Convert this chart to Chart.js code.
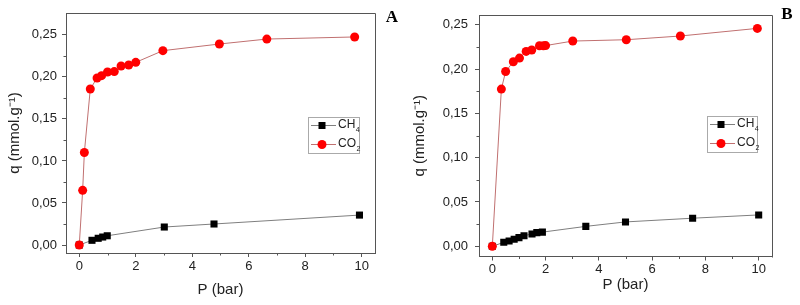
<!DOCTYPE html>
<html>
<head>
<meta charset="utf-8">
<script src="https://cdn.jsdelivr.net/npm/chart.js@4.4.1/dist/chart.umd.min.js"></script>
<style>
  body { margin: 0; background: #fff; }
  canvas { position: absolute; top: 0; }
  #chartA { left: 0; }
  #chartB { left: 400px; }
</style>
</head>
<body>
<canvas id="chartA" width="400" height="305"></canvas>
<canvas id="chartB" width="400" height="305"></canvas>
<script>
// Panel A data (P in bar, q in mmol/g)
const pressureCO2A = [0, 0.12, 0.18, 0.39, 0.63, 0.79, 1.0, 1.24, 1.48, 1.75, 2.0, 2.96, 4.96, 6.64, 9.75];
const uptakeCO2A   = [0, 0.065, 0.110, 0.1856, 0.1987, 0.2015, 0.2058, 0.2063, 0.213, 0.2141, 0.2173, 0.2312, 0.2391, 0.245, 0.2475];
const pressureCH4A = [0, 0.45, 0.67, 0.83, 0.99, 3.01, 4.77, 9.92];
const uptakeCH4A   = [0, 0.0056, 0.008, 0.0095, 0.011, 0.0214, 0.025, 0.0356];

// Panel B data
const pressureCO2B = [0, 0.34, 0.50, 0.79, 1.02, 1.27, 1.48, 1.77, 1.92, 2.0, 3.02, 5.03, 7.06, 9.95];
const uptakeCO2B   = [0, 0.1774, 0.1973, 0.2082, 0.2124, 0.2199, 0.2215, 0.2263, 0.2263, 0.2265, 0.2316, 0.2331, 0.2373, 0.2459];
const pressureCH4B = [0, 0.43, 0.63, 0.82, 1.0, 1.19, 1.49, 1.67, 1.88, 3.51, 5.0, 7.52, 10.0];
const uptakeCH4B   = [0, 0.0045, 0.006, 0.0079, 0.0098, 0.012, 0.0139, 0.0154, 0.016, 0.0225, 0.0275, 0.0317, 0.0354];

// Axis ticks
const xTicks = [0, 2, 4, 6, 8, 10];
const xMinorTicks = [1, 3, 5, 7, 9];
const yTicks = [0, 0.05, 0.10, 0.15, 0.20, 0.25];
const yMinorTicks = [0.025, 0.075, 0.125, 0.175, 0.225];

const seriesNames = ['CH4', 'CO2'];

const FONT = "'Liberation Sans', Arial, sans-serif";
const AXIS_COLOR = '#555';
const TEXT_COLOR = '#222';

function toPoints(xs, ys) {
    return xs.map((x, i) => ({ x: x, y: ys[i] }));
}

// Frame, minor ticks, inset legend and panel letter
const panelExtras = {
    id: 'panelExtras',
    afterDraw(chart, args, opts) {
        const ctx = chart.ctx;
        const area = chart.chartArea;
        const xs = chart.scales.x;
        const ys = chart.scales.y;
        ctx.save();

        // top and right frame lines
        ctx.strokeStyle = AXIS_COLOR;
        ctx.lineWidth = 1;
        ctx.beginPath();
        ctx.moveTo(Math.round(area.left) + 0.5, Math.round(area.top) + 0.5);
        ctx.lineTo(Math.round(area.right) + 0.5, Math.round(area.top) + 0.5);
        ctx.lineTo(Math.round(area.right) + 0.5, Math.round(area.bottom) + 0.5);
        ctx.stroke();

        // minor ticks
        ctx.beginPath();
        xMinorTicks.forEach(v => {
            const px = Math.round(xs.getPixelForValue(v)) + 0.5;
            ctx.moveTo(px, area.bottom);
            ctx.lineTo(px, area.bottom + 2.5);
        });
        yMinorTicks.forEach(v => {
            const py = Math.round(ys.getPixelForValue(v)) + 0.5;
            ctx.moveTo(area.left, py);
            ctx.lineTo(area.left - 2.5, py);
        });
        ctx.stroke();

        // legend box
        const lg = opts.legend;
        ctx.strokeStyle = '#aaa';
        ctx.strokeRect(lg.x + 0.5, lg.y + 0.5, lg.w, lg.h);
        const rows = [
            { name: seriesNames[0], line: '#7f7f7f', fill: '#000', shape: 'rect' },
            { name: seriesNames[1], line: '#c07070', fill: '#f00', shape: 'circle' }
        ];
        rows.forEach((r, i) => {
            const cy = lg.y + 8 + i * 19;
            ctx.strokeStyle = r.line;
            ctx.beginPath();
            ctx.moveTo(lg.x + 3, cy + 0.5);
            ctx.lineTo(lg.x + 28, cy + 0.5);
            ctx.stroke();
            const cx = lg.x + 14;
            ctx.fillStyle = r.fill;
            if (r.shape === 'rect') {
                ctx.fillRect(cx - 3.5, cy - 3, 7, 7);
            } else {
                ctx.beginPath();
                ctx.arc(cx, cy + 0.5, 4.5, 0, Math.PI * 2);
                ctx.fill();
            }
            ctx.fillStyle = TEXT_COLOR;
            ctx.textBaseline = 'middle';
            ctx.textAlign = 'left';
            ctx.font = '12px ' + FONT;
            const base = r.name.slice(0, 2);
            ctx.fillText(base, lg.x + 30, cy);
            const w = ctx.measureText(base).width;
            ctx.font = '7px ' + FONT;
            ctx.fillText(r.name.slice(2), lg.x + 30.5 + w, cy + 5);
        });

        // panel letter
        ctx.fillStyle = '#000';
        ctx.font = "bold 17px 'Liberation Serif', 'Times New Roman', serif";
        ctx.textAlign = 'center';
        ctx.textBaseline = 'middle';
        ctx.fillText(opts.letter, opts.letterX, opts.letterY);
        ctx.restore();
    }
};

function makePanel(canvasId, co2P, co2Q, ch4P, ch4Q, cfg) {
    const ctx = document.getElementById(canvasId).getContext('2d');
    return new Chart(ctx, {
        type: 'scatter',
        data: {
            datasets: [
                {
                    label: 'CO2',
                    data: toPoints(co2P, co2Q),
                    showLine: true,
                    borderColor: '#c07070',
                    borderWidth: 1,
                    pointStyle: 'circle',
                    pointRadius: 4.5,
                    pointBackgroundColor: '#f00',
                    pointBorderColor: '#f00',
                    pointBorderWidth: 0
                },
                {
                    label: 'CH4',
                    data: toPoints(ch4P, ch4Q),
                    showLine: true,
                    borderColor: '#7f7f7f',
                    borderWidth: 1,
                    pointStyle: 'rect',
                    pointRadius: 5,
                    pointBackgroundColor: '#000',
                    pointBorderColor: '#000',
                    pointBorderWidth: 0
                }
            ]
        },
        options: {
            responsive: false,
            animation: false,
            layout: { padding: { top: cfg.top, right: cfg.right, left: 0, bottom: 0 } },
            plugins: {
                legend: { display: false },
                tooltip: { enabled: false },
                panelExtras: cfg.extras
            },
            scales: {
                x: {
                    type: 'linear',
                    min: cfg.xMin,
                    max: cfg.xMax,
                    afterBuildTicks: s => { s.ticks = xTicks.map(v => ({ value: v })); },
                    afterFit: s => { s.height = cfg.xAxisHeight; },
                    grid: { drawOnChartArea: false, drawTicks: true, tickLength: 4, color: AXIS_COLOR },
                    border: { display: true, color: AXIS_COLOR, width: 1 },
                    ticks: {
                        color: TEXT_COLOR,
                        font: { family: FONT, size: 13 },
                        padding: cfg.xTickPad,
                        maxRotation: 0
                    },
                    title: {
                        display: true,
                        text: 'P (bar)',
                        color: TEXT_COLOR,
                        font: { family: FONT, size: 15 },
                        padding: { top: 0, bottom: cfg.xTitlePad }
                    }
                },
                y: {
                    type: 'linear',
                    min: cfg.yMin,
                    max: cfg.yMax,
                    afterBuildTicks: s => { s.ticks = yTicks.map(v => ({ value: v })); },
                    afterFit: s => { s.width = cfg.yAxisWidth; },
                    grid: { drawOnChartArea: false, drawTicks: true, tickLength: 4, color: AXIS_COLOR },
                    border: { display: true, color: AXIS_COLOR, width: 1 },
                    ticks: {
                        color: TEXT_COLOR,
                        font: { family: FONT, size: 13 },
                        padding: cfg.yTickPad,
                        callback: v => v.toFixed(2).replace('.', ',')
                    },
                    title: {
                        display: true,
                        text: 'q (mmol.g\u207B\u00B9)',
                        color: TEXT_COLOR,
                        font: { family: FONT, size: 15 },
                        padding: { top: cfg.yTitlePad, bottom: 0 }
                    }
                }
            }
        },
        plugins: [panelExtras]
    });
}

makePanel('chartA', pressureCO2A, uptakeCO2A, pressureCH4A, uptakeCH4A, {
    top: 13, right: 25, xAxisHeight: 52, yAxisWidth: 66,
    xMin: -0.47, xMax: 10.47, yMin: -0.0095, yMax: 0.276,
    xTickPad: 2, yTickPad: 5, xTitlePad: 6, yTitlePad: 6,
    extras: { letter: 'A', letterX: 392, letterY: 18, legend: { x: 308, y: 117, w: 51, h: 36 } }
});

makePanel('chartB', pressureCO2B, uptakeCO2B, pressureCH4B, uptakeCH4B, {
    top: 15, right: 28, xAxisHeight: 48.5, yAxisWidth: 79,
    xMin: -0.5, xMax: 10.5, yMin: -0.0115, yMax: 0.261,
    xTickPad: 1, yTickPad: 7, xTitlePad: 11, yTitlePad: 11,
    extras: { letter: 'B', letterX: 387, letterY: 15, legend: { x: 307, y: 116, w: 50, h: 36 } }
});
</script>
</body>
</html>
